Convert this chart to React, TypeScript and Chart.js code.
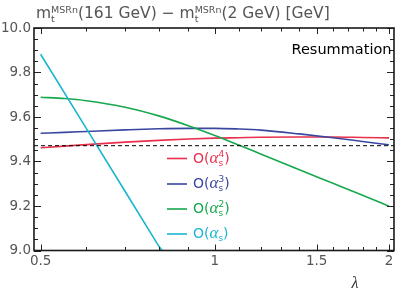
import React, { useEffect, useRef } from "react";
import { Chart, registerables } from "chart.js";

Chart.register(...registerables);

// ---- data ----
const lambdaValues = [0.5, 0.55, 0.6, 0.7, 0.8, 0.9, 1.0, 1.1, 1.2, 1.4, 1.6, 1.8, 2.0];
const orderAs4 = [9.462, 9.469, 9.476, 9.487, 9.495, 9.501, 9.505, 9.507, 9.509, 9.51, 9.51, 9.508, 9.506];
const orderAs3 = [9.527, 9.531, 9.535, 9.542, 9.547, 9.549, 9.549, 9.546, 9.541, 9.524, 9.507, 9.49, 9.475];
const orderAs2 = [9.689, 9.683, 9.673, 9.644, 9.605, 9.561, 9.517, 9.474, 9.434, 9.363, 9.302, 9.248, 9.199];
const lambdaAs1 = [0.5, 0.6, 0.7, 0.8, 0.85];
const orderAs1 = [9.882, 9.548, 9.265, 9.02, 8.929];
const referenceValue = 9.471;

const xTickValues = [0.5, 1, 1.5, 2];
const xMinorTicks = [0.6, 0.7, 0.8, 0.9, 1.1, 1.2, 1.3, 1.4, 1.6, 1.7, 1.8, 1.9];
const yTickValues = [9.0, 9.2, 9.4, 9.6, 9.8, 10.0];
const yMinorTicks = [9.05, 9.1, 9.15, 9.25, 9.3, 9.35, 9.45, 9.5, 9.55, 9.65, 9.7, 9.75, 9.85, 9.9, 9.95];

const seriesExponents = ["4", "3", "2", ""];
const seriesColors = ["#e8304c", "#3a47a1", "#17a84e", "#1ab6d0"];

const X_MIN = 0.487;
const X_MAX = 2.04;
const Y_MIN = 9.0;
const Y_MAX = 10.0;

const SANS = "'DejaVu Sans', sans-serif";
const SERIF = "'Liberation Serif', serif";
const LABEL_GRAY = "#555";

const framePlugin = {
  id: "frame",
  afterDatasetsDraw(chart: any) {
    const { ctx, chartArea } = chart;
    const { left, right, top, bottom } = chartArea;
    const xs = chart.scales.x;
    const ys = chart.scales.y;
    ctx.save();
    ctx.strokeStyle = "#222";
    ctx.lineWidth = 1;
    const tick = (x1: number, y1: number, x2: number, y2: number) => {
      ctx.beginPath();
      ctx.moveTo(x1, y1);
      ctx.lineTo(x2, y2);
      ctx.stroke();
    };
    xTickValues.forEach((v) => {
      const px = Math.round(xs.getPixelForValue(v)) + 0.5;
      tick(px, bottom, px, bottom - 6);
      tick(px, top, px, top + 6);
    });
    xMinorTicks.forEach((v) => {
      const px = Math.round(xs.getPixelForValue(v)) + 0.5;
      tick(px, bottom, px, bottom - 3.5);
      tick(px, top, px, top + 3.5);
    });
    yTickValues.forEach((v) => {
      const py = Math.round(ys.getPixelForValue(v)) + 0.5;
      tick(left, py, left + 7, py);
      tick(right, py, right - 7, py);
    });
    yMinorTicks.forEach((v) => {
      const py = Math.round(ys.getPixelForValue(v)) + 0.5;
      tick(left, py, left + 4, py);
      tick(right, py, right - 4, py);
    });
    ctx.lineWidth = 1.6;
    ctx.strokeStyle = "#1a1a1a";
    ctx.strokeRect(left, top, right - left, bottom - top);
    ctx.restore();
  },
};

type Piece = { t: string; font: string; dy?: number; stackWith?: Piece };

function drawPieces(ctx: CanvasRenderingContext2D, pieces: Piece[], x: number, y: number, color: string) {
  ctx.fillStyle = color;
  ctx.textBaseline = "alphabetic";
  ctx.textAlign = "left";
  let cx = x;
  for (const p of pieces) {
    ctx.font = p.font;
    ctx.fillText(p.t, cx, y + (p.dy || 0));
    let w = ctx.measureText(p.t).width;
    if (p.stackWith) {
      ctx.font = p.stackWith.font;
      ctx.fillText(p.stackWith.t, cx, y + (p.stackWith.dy || 0));
      w = Math.max(w, ctx.measureText(p.stackWith.t).width);
    }
    cx += w;
  }
  return cx;
}

const textPlugin = {
  id: "texts",
  afterDraw(chart: any) {
    const ctx: CanvasRenderingContext2D = chart.ctx;
    ctx.save();
    // title
    const main = `15.5px ${SANS}`;
    const small = `9.5px ${SANS}`;
    const mass: Piece[] = [
      { t: "m", font: main },
      { t: "t", font: small, dy: 3.5, stackWith: { t: "MSRn", font: small, dy: -5.5 } },
    ];
    drawPieces(
      ctx,
      [
        ...mass,
        { t: "(161 GeV) \u2212 ", font: main },
        ...mass,
        { t: "(2 GeV) [GeV]", font: main },
      ],
      36,
      18,
      LABEL_GRAY
    );
    // Resummation
    ctx.font = `14.5px ${SANS}`;
    ctx.fillStyle = "#000";
    ctx.textAlign = "right";
    ctx.fillText("Resummation", 391.5, 53.5);
    // lambda axis title
    ctx.font = `italic 16px ${SERIF}`;
    ctx.textAlign = "center";
    ctx.fillStyle = "#333";
    ctx.fillText("\u03bb", 355, 288);
    // legend
    const rowY = [158, 183.5, 208.5, 233.5];
    seriesExponents.forEach((ex, i) => {
      const color = seriesColors[i];
      const y = rowY[i];
      ctx.strokeStyle = color;
      ctx.lineWidth = 1.6;
      ctx.beginPath();
      ctx.moveTo(167, y + 0.5);
      ctx.lineTo(187, y + 0.5);
      ctx.stroke();
      const lf = `14px ${SANS}`;
      const sf = `9px ${SANS}`;
      const pieces: Piece[] = [
        { t: "O(", font: lf },
        { t: "\u03b1", font: `italic 17px ${SERIF}` },
        ex
          ? { t: "s", font: sf, dy: 3, stackWith: { t: ex, font: sf, dy: -6 } }
          : { t: "s", font: sf, dy: 3 },
        { t: ")", font: lf },
      ];
      drawPieces(ctx, pieces, 193, y + 4.5, color);
    });
    ctx.restore();
  },
};

const toPoints = (xs: number[], ys: number[]) => xs.map((x, i) => ({ x, y: ys[i] }));

export default function App() {
  const ref = useRef<HTMLCanvasElement>(null);
  useEffect(() => {
    const canvas = ref.current;
    if (!canvas) return;
    const chart = new Chart(canvas, {
      type: "line",
      data: {
        datasets: [
          {
            label: "reference",
            data: [
              { x: X_MIN, y: referenceValue },
              { x: X_MAX, y: referenceValue },
            ],
            borderColor: "#000",
            borderWidth: 1,
            borderDash: [4, 3],
            pointRadius: 0,
          },
          {
            label: "O(as)",
            data: toPoints(lambdaAs1, orderAs1),
            borderColor: seriesColors[3],
            borderWidth: 1.6,
            pointRadius: 0,
          },
          {
            label: "O(as^2)",
            data: toPoints(lambdaValues, orderAs2),
            borderColor: seriesColors[2],
            borderWidth: 1.6,
            pointRadius: 0,
            cubicInterpolationMode: "monotone",
          },
          {
            label: "O(as^3)",
            data: toPoints(lambdaValues, orderAs3),
            borderColor: seriesColors[1],
            borderWidth: 1.6,
            pointRadius: 0,
            cubicInterpolationMode: "monotone",
          },
          {
            label: "O(as^4)",
            data: toPoints(lambdaValues, orderAs4),
            borderColor: seriesColors[0],
            borderWidth: 1.6,
            pointRadius: 0,
            cubicInterpolationMode: "monotone",
          },
        ],
      },
      options: {
        responsive: false,
        animation: false,
        events: [],
        layout: { padding: { top: 28, right: 5, left: 0, bottom: 0 } },
        plugins: {
          legend: { display: false },
          tooltip: { enabled: false },
          title: { display: false },
        },
        scales: {
          x: {
            type: "logarithmic",
            min: X_MIN,
            max: X_MAX,
            grid: { display: false, drawTicks: false },
            border: { display: false },
            afterBuildTicks: (s: any) => {
              s.ticks = xTickValues.map((v) => ({ value: v }));
            },
            afterFit: (s: any) => {
              s.height = 39.5;
            },
            ticks: {
              autoSkip: false,
              maxRotation: 0,
              padding: 3,
              color: LABEL_GRAY,
              font: { family: SANS, size: 13.5 },
              callback: (v: any) => String(v),
            },
          },
          y: {
            type: "linear",
            min: Y_MIN,
            max: Y_MAX,
            grid: { display: false, drawTicks: false },
            border: { display: false },
            afterBuildTicks: (s: any) => {
              s.ticks = yTickValues.map((v) => ({ value: v }));
            },
            afterFit: (s: any) => {
              s.width = 34;
            },
            ticks: {
              padding: 3,
              color: LABEL_GRAY,
              font: { family: SANS, size: 13.5 },
              callback: (v: any) => Number(v).toFixed(1),
            },
          },
        },
      } as any,
      plugins: [framePlugin, textPlugin],
    });
    return () => chart.destroy();
  }, []);
  return (
    <div style={{ position: "absolute", left: 0, top: 0, width: 399, height: 290, background: "#fff" }}>
      <canvas ref={ref} width={399} height={290} style={{ display: "block" }} />
    </div>
  );
}
